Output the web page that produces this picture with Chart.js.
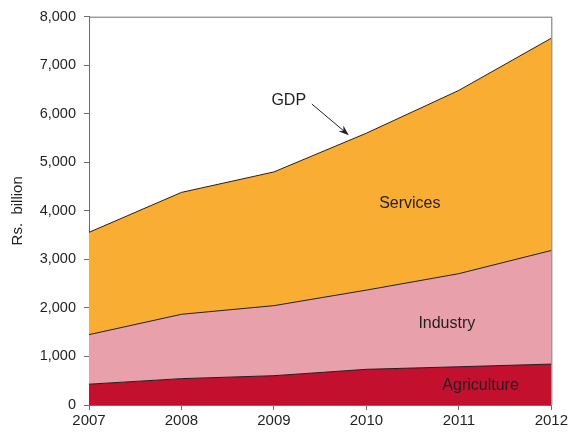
<!DOCTYPE html>
<html>
<head>
<meta charset="utf-8">
<script src="https://cdn.jsdelivr.net/npm/chart.js@4/dist/chart.umd.min.js"></script>
<style>
  html, body { margin: 0; padding: 0; background: #fff; }
  #wrap { width: 570px; height: 435px; }
</style>
</head>
<body>
<div id="wrap"><canvas id="gdpChart"></canvas></div>
<script>
// Data (Rs. billion)
const years = [2007, 2008, 2009, 2010, 2011, 2012];
const agriculture = [429, 543, 604, 735, 788, 843];
const industry = [1020, 1326, 1443, 1632, 1918, 2341];
const services = [2108, 2511, 2755, 3233, 3776, 4373];
const yTicks = [0, 1000, 2000, 3000, 4000, 5000, 6000, 7000, 8000];

const FONT = '"Liberation Sans", Arial, sans-serif';
const TEXT = '#231f20';

function points(values) {
    return values.map((v, i) => ({ x: years[i], y: v }));
}

// Frame on top/right plus the text labels and the GDP arrow
const annotations = {
    id: 'annotations',
    afterDatasetsDraw(chart) {
        const { ctx, chartArea: a, scales: { x, y } } = chart;
        ctx.save();
        ctx.strokeStyle = '#6d6e71';
        ctx.lineWidth = 1;
        ctx.beginPath();
        ctx.moveTo(a.left, a.top + 0.5);
        ctx.lineTo(a.right + 0.5, a.top + 0.5);
        ctx.lineTo(a.right + 0.5, a.bottom);
        ctx.stroke();

        ctx.font = '16px ' + FONT;
        ctx.fillStyle = TEXT;
        ctx.textAlign = 'center';
        ctx.textBaseline = 'middle';
        ctx.fillText('GDP', x.getPixelForValue(2009.16), y.getPixelForValue(6270));
        ctx.fillText('Services', x.getPixelForValue(2010.47), y.getPixelForValue(4150));
        ctx.fillText('Industry', x.getPixelForValue(2010.87), y.getPixelForValue(1675));
        ctx.fillText('Agriculture', x.getPixelForValue(2011.235), y.getPixelForValue(410));

        // arrow pointing at the GDP line
        const x1 = x.getPixelForValue(2009.41), y1 = y.getPixelForValue(6200);
        const x2 = x.getPixelForValue(2009.81), y2 = y.getPixelForValue(5560);
        const ang = Math.atan2(y2 - y1, x2 - x1);
        ctx.strokeStyle = TEXT;
        ctx.lineWidth = 1;
        ctx.beginPath();
        ctx.moveTo(x1, y1);
        ctx.lineTo(x2 - 6 * Math.cos(ang), y2 - 6 * Math.sin(ang));
        ctx.stroke();
        ctx.beginPath();
        ctx.moveTo(x2, y2);
        ctx.lineTo(x2 - 11 * Math.cos(ang - 0.35), y2 - 11 * Math.sin(ang - 0.35));
        ctx.lineTo(x2 - 7 * Math.cos(ang), y2 - 7 * Math.sin(ang));
        ctx.lineTo(x2 - 11 * Math.cos(ang + 0.35), y2 - 11 * Math.sin(ang + 0.35));
        ctx.closePath();
        ctx.fill();
        ctx.restore();
    }
};

function series(label, values, color, fill) {
    return {
        label: label,
        data: points(values),
        backgroundColor: color,
        borderColor: '#231f20',
        borderWidth: 1,
        fill: fill,
        pointRadius: 0,
        tension: 0
    };
}

new Chart(document.getElementById('gdpChart'), {
    type: 'line',
    data: {
        datasets: [
            series('Agriculture', agriculture, '#c3102f', 'origin'),
            series('Industry', industry, '#e8a0aa', '-1'),
            series('Services', services, '#f9ae33', '-1')
        ]
    },
    options: {
        responsive: true,
        maintainAspectRatio: false,
        animation: false,
        layout: { padding: { top: 1, right: 17, left: 9, bottom: 0 } },
        plugins: {
            legend: { display: false },
            tooltip: { enabled: false }
        },
        scales: {
            x: {
                type: 'linear',
                min: years[0],
                max: years[years.length - 1],
                afterBuildTicks(axis) {
                    axis.ticks = years.map(v => ({ value: v }));
                },
                afterFit(axis) { axis.height = 30; },
                border: { display: true, color: '#6d6e71', width: 1 },
                grid: { drawOnChartArea: false, drawTicks: true, tickLength: 5, tickColor: '#6d6e71' },
                ticks: {
                    padding: 2,
                    maxRotation: 0,
                    color: TEXT,
                    font: { family: FONT, size: 15 },
                    callback: v => String(v)
                }
            },
            y: {
                stacked: true,
                min: 0,
                max: 8000,
                afterBuildTicks(axis) {
                    axis.ticks = yTicks.map(v => ({ value: v }));
                },
                afterFit(axis) { axis.width = 80; },
                border: { display: true, color: '#6d6e71', width: 1 },
                grid: { drawOnChartArea: false, drawTicks: true, tickLength: 5, tickColor: '#6d6e71' },
                title: {
                    display: true,
                    text: 'Rs.  billion',
                    color: TEXT,
                    font: { family: FONT, size: 15 },
                    padding: { top: 0, bottom: 12 }
                },
                ticks: {
                    padding: 8,
                    color: TEXT,
                    font: { family: FONT, size: 14.5 },
                    callback: v => v.toLocaleString('en-US')
                }
            }
        }
    },
    plugins: [annotations]
});
</script>
</body>
</html>
